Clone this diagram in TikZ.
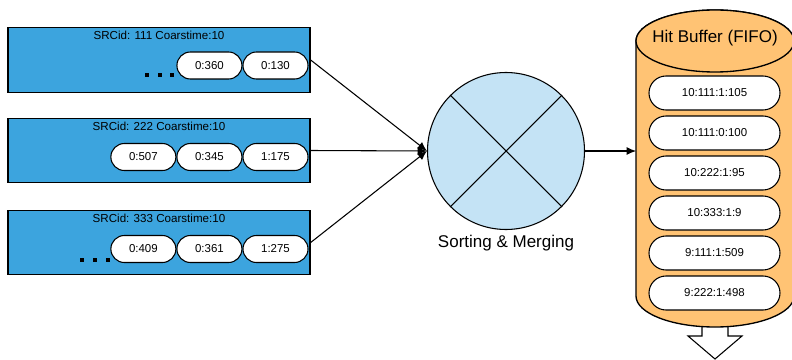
\documentclass[tikz,border=0pt]{standalone}
\usepackage{fontspec}
\setmainfont{Liberation Sans}
\usetikzlibrary{positioning}
\usetikzlibrary{arrows.meta}
\usetikzlibrary{shapes.misc}
\definecolor{srcblue}{HTML}{3CA4DE}
\definecolor{mergeblue}{HTML}{C4E3F5}
\definecolor{bufferorange}{HTML}{FFC374}

\begin{document}
\begin{tikzpicture}[x=0.75pt, y=-0.75pt,
    srcbox/.style={draw=black, fill=srcblue, line width=1pt, minimum width=226.5pt, minimum height=48.4pt, inner sep=0pt},
    hit/.style={rounded rectangle, draw=black, fill=white, line width=0.8pt, minimum width=48.75pt, minimum height=20.25pt, inner sep=0pt, font=\fontsize{8.6}{10}\selectfont},
    bufhit/.style={hit, minimum width=98.25pt, minimum height=25.5pt},
    smalltext/.style={font=\fontsize{8.7}{10}\selectfont},
    bigtext/.style={font=\fontsize{12.75}{15}\selectfont},
    conn/.style={draw=black, line width=0.8pt, -{Latex[length=7pt, width=6pt]}}]
    \useasboundingbox (0,0) rectangle (792,360);

    % source boxes
    \node[srcbox] (src1) at (159,60) {};
    \node[smalltext] (title1) at (159,35) {SRCid: 111 Coarstime:10};
    \node[hit] (h13) at (275.5,65.5) {0:130};
    \node[hit, left=0pt of h13] (h12) {0:360};
    \foreach \x in {147,160,172}
        \fill (\x-1.8,73.2) rectangle (\x+1.8,76.8);

    \node[srcbox] (src2) at (159,150.5) {};
    \node[smalltext] (title2) at (159,126) {SRCid: 222 Coarstime:10};
    \node[hit] (h23) at (275.5,157) {1:175};
    \node[hit, left=0pt of h23] (h22) {0:345};
    \node[hit, left=0pt of h22] (h21) {0:507};

    \node[srcbox] (src3) at (159,242.5) {};
    \node[smalltext] (title3) at (159,218) {SRCid: 333 Coarstime:10};
    \node[hit] (h33) at (275.5,249) {1:275};
    \node[hit, left=0pt of h33] (h32) {0:361};
    \node[hit, left=0pt of h32] (h31) {0:409};
    \foreach \x in {82,95,108}
        \fill (\x-1.8,258.2) rectangle (\x+1.8,261.8);

    % sorting and merging
    \node[circle, draw=black, fill=mergeblue, line width=0.8pt, minimum size=117.75pt, inner sep=0pt] (merge) at (506,151) {};
    \draw[line width=0.8pt] (merge.45) -- (merge.225);
    \draw[line width=0.8pt] (merge.135) -- (merge.-45);
    \node[bigtext] (mergelabel) at (506,243) {Sorting \& Merging};

    \draw[conn] (src1.east) -- (merge.west);
    \draw[conn] (src2.east) -- (merge.west);
    \draw[conn] (src3.east) -- (merge.west);

    % hit buffer
    \draw[fill=white, line width=0.8pt] (702,318) -- (702,336) -- (688,336) -- (715,359) -- (742,336) -- (728,336) -- (728,318) -- cycle;
    \filldraw[fill=bufferorange, line width=1pt] (636,41) -- (636,296)
        arc[start angle=180, end angle=360, x radius=59.25pt, y radius=23.25pt]
        -- (794,41) arc[start angle=0, end angle=180, x radius=59.25pt, y radius=23.25pt] -- cycle;
    \filldraw[fill=bufferorange, line width=1pt] (715,41) ellipse [x radius=59.25pt, y radius=23.25pt];
    \node[bigtext] (buftitle) at (715,38) {Hit Buffer (FIFO)};
    \coordinate (bufin) at (636,151);

    \foreach \y/\t [count=\i] in {93/10:111:1:105, 133/10:111:0:100, 173/10:222:1:95, 213/10:333:1:9, 253/9:111:1:509, 293/9:222:1:498}
        \node[bufhit] (b\i) at (714.5,\y) {\t};

    \draw[conn] (merge.east) -- (bufin);
\end{tikzpicture}
\end{document}
